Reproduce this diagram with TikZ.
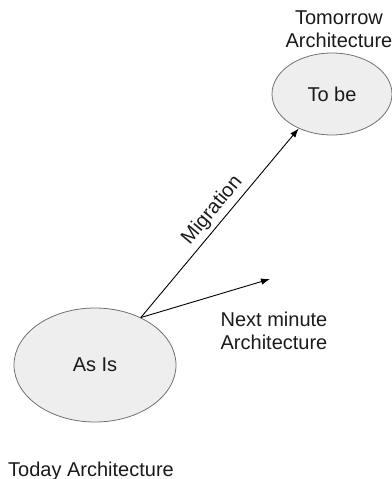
\documentclass[tikz,border=0pt]{standalone}
\usepackage{fontspec}
\setmainfont{Liberation Sans}
\usetikzlibrary{arrows.meta,shapes.geometric}
\definecolor{ellfill}{HTML}{EEEEEE}
\definecolor{elldraw}{HTML}{707070}
\definecolor{txt}{HTML}{1A1A1A}
\begin{document}
\begin{tikzpicture}[x=1pt,y=-1pt,
  state/.style={ellipse,draw=elldraw,fill=ellfill,line width=0.8pt,inner sep=0pt,text=txt,font=\fontsize{20}{23}\selectfont},
  lbl/.style={inner sep=0pt,text=txt,font=\fontsize{20}{23}\selectfont},
  arr/.style={-{Latex[length=9pt,width=6.5pt]},line width=0.9pt,draw=black}]
\useasboundingbox (0,0) rectangle (391,479);
\node[state,minimum width=162pt,minimum height=114pt] (asis) at (95,365) {As Is};
\node[state,minimum width=120pt,minimum height=82pt] (tobe) at (332,94) {To be};
\coordinate (nxt) at (270,279);
\draw[arr] (asis.46) -- node[lbl,pos=0.52,sloped,above=4pt] (mig) {Migration} (tobe.226);
\draw[arr] (asis.46) -- (nxt);
\node[lbl,align=left] (nextarch) at (274,331) {Next minute\\Architecture};
\node[lbl,align=center] (tomarch) at (339,29) {Tomorrow\\Architecture};
\node[lbl,anchor=base west] (today) at (8,476) {Today Architecture};
\end{tikzpicture}
\end{document}
